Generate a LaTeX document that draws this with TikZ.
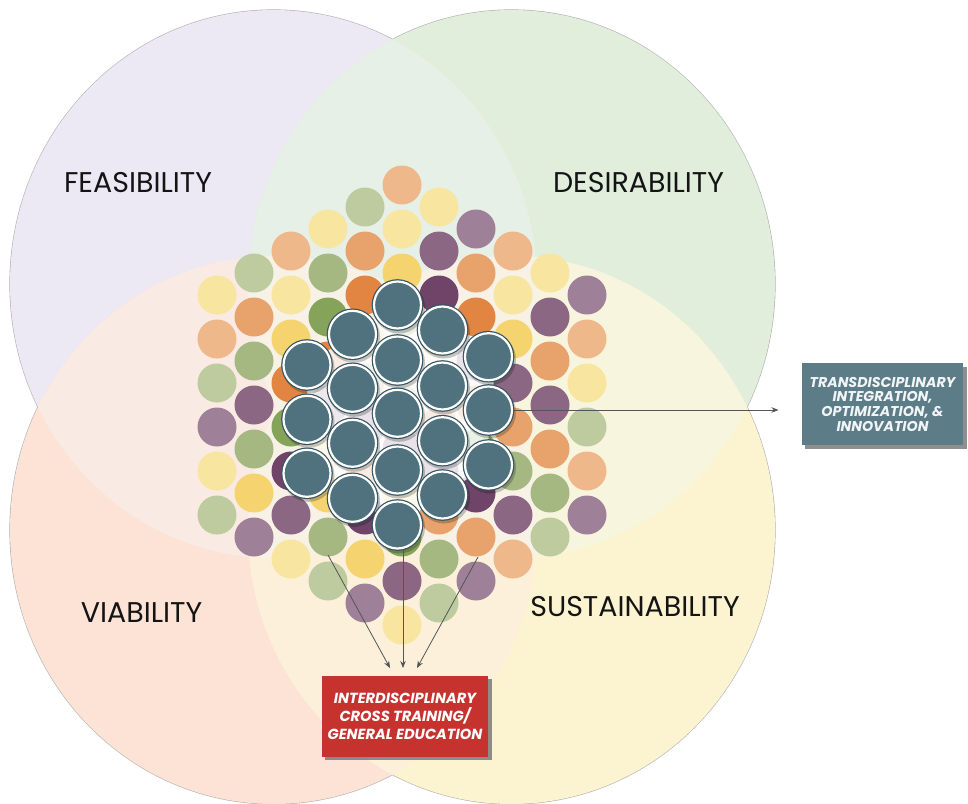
\documentclass[tikz,border=0pt]{standalone}
\usepackage{fontspec}
\setmainfont{Poppins}
\usetikzlibrary{arrows.meta,calc,shadows}
\definecolor{cF}{HTML}{ECE9F4}
\definecolor{cD}{HTML}{E1EEDC}
\definecolor{cV}{HTML}{FCE3D6}
\definecolor{cS}{HTML}{FCF4D1}
\definecolor{cFD}{HTML}{E7F0E7}
\definecolor{cFV}{HTML}{F9EAE3}
\definecolor{cDS}{HTML}{F8F5DF}
\definecolor{cVS}{HTML}{FCF0DA}
\definecolor{cC}{HTML}{F7F1E6}
\definecolor{ly}{HTML}{F8E5A0}
\definecolor{yl}{HTML}{F5D470}
\definecolor{pe}{HTML}{EEB88B}
\definecolor{or}{HTML}{E8A26B}
\definecolor{do}{HTML}{E28442}
\definecolor{lg}{HTML}{BDCB9F}
\definecolor{gr}{HTML}{A5B881}
\definecolor{mg}{HTML}{86A35A}
\definecolor{lp}{HTML}{9E8199}
\definecolor{pu}{HTML}{8B6783}
\definecolor{dp}{HTML}{704369}
\definecolor{blueF}{HTML}{50727F}
\definecolor{blueD}{HTML}{345461}
\definecolor{cRed}{HTML}{C6332F}
\definecolor{cSlate}{HTML}{5C7C88}
\definecolor{arrC}{HTML}{555555}
\definecolor{labC}{HTML}{141414}
\begin{document}
\begin{tikzpicture}[x=1pt,y=-1pt,
  ellF/.style={insert path={(273.5,284) ellipse [x radius=263.5, y radius=274]}},
  ellD/.style={insert path={(511.5,284) ellipse [x radius=263.5, y radius=274]}},
  ellV/.style={insert path={(273.5,530) ellipse [x radius=263.5, y radius=274]}},
  ellS/.style={insert path={(511.5,530) ellipse [x radius=263.5, y radius=274]}},
  edgeline/.style={draw=black!30, line width=1.2pt},
  dotc/.style={circle, minimum size=39pt, inner sep=0pt, draw=none},
  bluec/.style={circle, minimum size=47pt, inner sep=0pt, fill=blueF, draw=white, line width=2.2pt,
     preaction={draw=blueD, line width=4.6pt}},
  lab/.style={font=\fontsize{28.5}{32}\selectfont, text=labC, inner sep=0pt},
  arr/.style={draw=arrC, line width=0.8pt, -{Stealth[length=7pt,width=5.5pt]}},
  redbox/.style={fill=cRed, minimum width=166.6pt, minimum height=80.7pt, inner sep=0pt,
     text=white, align=center, font=\fontsize{14.6}{18.3}\selectfont\bfseries\itshape,
     drop shadow={shadow xshift=3.5pt, shadow yshift=-3.5pt, fill=black!55, opacity=0.8}},
  slatebox/.style={fill=cSlate, minimum width=161.6pt, minimum height=81.7pt, inner sep=0pt,
     text=white!92!cSlate, align=center, font=\fontsize{14.2}{14.7}\selectfont\bfseries\itshape,
     drop shadow={shadow xshift=3.5pt, shadow yshift=-3.5pt, fill=black!55, opacity=0.8}}
]
\useasboundingbox (0,0) rectangle (968,803);
\fill[white] (0,0) rectangle (968,803);
% outer outline (inner halves get covered by fills)
\path[edgeline, ellF];
\path[edgeline, ellD];
\path[edgeline, ellV];
\path[edgeline, ellS];
% base fills
\fill[cF, ellF];
\fill[cD, ellD];
\fill[cV, ellV];
\fill[cS, ellS];
% overlaps
\begin{scope}
  \clip[ellF];
  \fill[cFD, ellD];
  \fill[cFV, ellV];
\end{scope}
\begin{scope}
  \clip[ellS];
  \fill[cDS, ellD];
  \fill[cVS, ellV];
\end{scope}
\begin{scope}
  \clip[ellF];
  \fill[cC, ellS];
\end{scope}
\begin{scope}
  \clip[ellD];
  \fill[cC, ellV];
\end{scope}
% coloured dots
\foreach \c/\m/\col in {
 0/5/ly, 0/7/pe, 0/9/lg, 0/11/lp, 0/13/ly, 0/15/lg,
 1/4/lg, 1/6/or, 1/8/gr, 1/10/pu, 1/12/gr, 1/14/yl, 1/16/lp,
 2/3/pe, 2/5/ly, 2/7/yl, 2/9/do, 2/11/mg, 2/13/dp, 2/15/pu, 2/17/ly,
 3/2/ly, 3/4/gr, 3/6/mg, 3/8/do, 3/10/pu, 3/12/yl, 3/14/yl, 3/16/gr, 3/18/lg,
 4/1/lg, 4/3/or, 4/5/do, 4/7/yl, 4/9/gr, 4/11/dp, 4/13/do, 4/15/dp, 4/17/yl, 4/19/lp,
 5/0/pe, 5/2/ly, 5/4/yl, 5/6/mg, 5/8/do, 5/10/gr, 5/12/dp, 5/14/yl, 5/16/mg, 5/18/pu, 5/20/ly,
 6/1/ly, 6/3/pu, 6/5/dp, 6/7/yl, 6/9/mg, 6/11/do, 6/13/dp, 6/15/or, 6/17/gr, 6/19/lg,
 7/2/lp, 7/4/or, 7/6/do, 7/8/dp, 7/10/do, 7/12/mg, 7/14/dp, 7/16/or, 7/18/lp,
 8/3/pe, 8/5/ly, 8/7/yl, 8/9/pu, 8/11/or, 8/13/gr, 8/15/pu, 8/17/pe,
 9/4/ly, 9/6/pu, 9/8/or, 9/10/pu, 9/12/or, 9/14/gr, 9/16/lg,
 10/5/lp, 10/7/pe, 10/9/ly, 10/11/lg, 10/13/pe, 10/15/lp}
  \node[dotc, fill=\col] (d\c-\m) at ({217+37*\c},{185+22*\m}) {};
% white glow inside blue cluster
\fill[white, opacity=0.85] (307,365) -- (352.5,334.3) -- (397.5,305) -- (442.5,330) -- (488.5,356.7)
  -- (488.5,410) -- (488.5,465) -- (442.5,495) -- (397.5,525) -- (352.5,498.3) -- (307,473.3)
  -- (307,419.3) -- cycle;
% shadows of blue circles
\foreach \x/\y in {307/365, 307/419.3, 307/473.3, 352.5/334.3, 352.5/388.3, 352.5/443.3, 352.5/498.3,
  397.5/305, 397.5/360, 397.5/413.3, 397.5/470, 397.5/525, 442.5/330, 442.5/386, 442.5/440.7,
  442.5/495, 488.5/356.7, 488.5/410, 488.5/465}
  \fill[black, opacity=0.22] ({\x+1.5},{\y+2.5}) circle [radius=26];
% blue circles
\foreach \n/\x/\y in {bA1/307/365, bA2/307/419.3, bA3/307/473.3, bB1/352.5/334.3, bB2/352.5/388.3,
  bB3/352.5/443.3, bB4/352.5/498.3, bC1/397.5/305, bC2/397.5/360, bC3/397.5/413.3, bC4/397.5/470,
  bC5/397.5/525, bD1/442.5/330, bD2/442.5/386, bD3/442.5/440.7, bD4/442.5/495, bE1/488.5/356.7,
  bE2/488.5/410, bE3/488.5/465}
  \node[bluec] (\n) at (\x,\y) {};
% labels
\node[lab] (feas) at (138,183) {FEASIBILITY};
\node[lab] (desi) at (638.5,183) {DESIRABILITY};
\node[lab] (viab) at (141.5,613) {VIABILITY};
\node[lab] (sust) at (635,607) {SUSTAINABILITY};
% boxes
\node[redbox] (red) at (405,716.3) {INTERDISCIPLINARY\\CROSS TRAINING/\\GENERAL EDUCATION};
\node[slatebox] (trans) at (882.5,404.2) {TRANSDISCIPLINARY\\INTEGRATION,\\OPTIMIZATION, \&\\INNOVATION};
% connectors
\draw[arr, shorten >=23pt] (bE2.east) -- (bE2.east -| trans.west);
\coordinate (ls) at (328,555);
\coordinate (lt) at (390,668);
\coordinate (ms) at (403,550);
\coordinate (mt) at (403,668);
\coordinate (rs) at (478,557);
\coordinate (rt) at (417,668);
\draw[arr] (ls) -- (lt);
\draw[arr] (ms) -- (mt);
\draw[arr] (rs) -- (rt);
\end{tikzpicture}
\end{document}
